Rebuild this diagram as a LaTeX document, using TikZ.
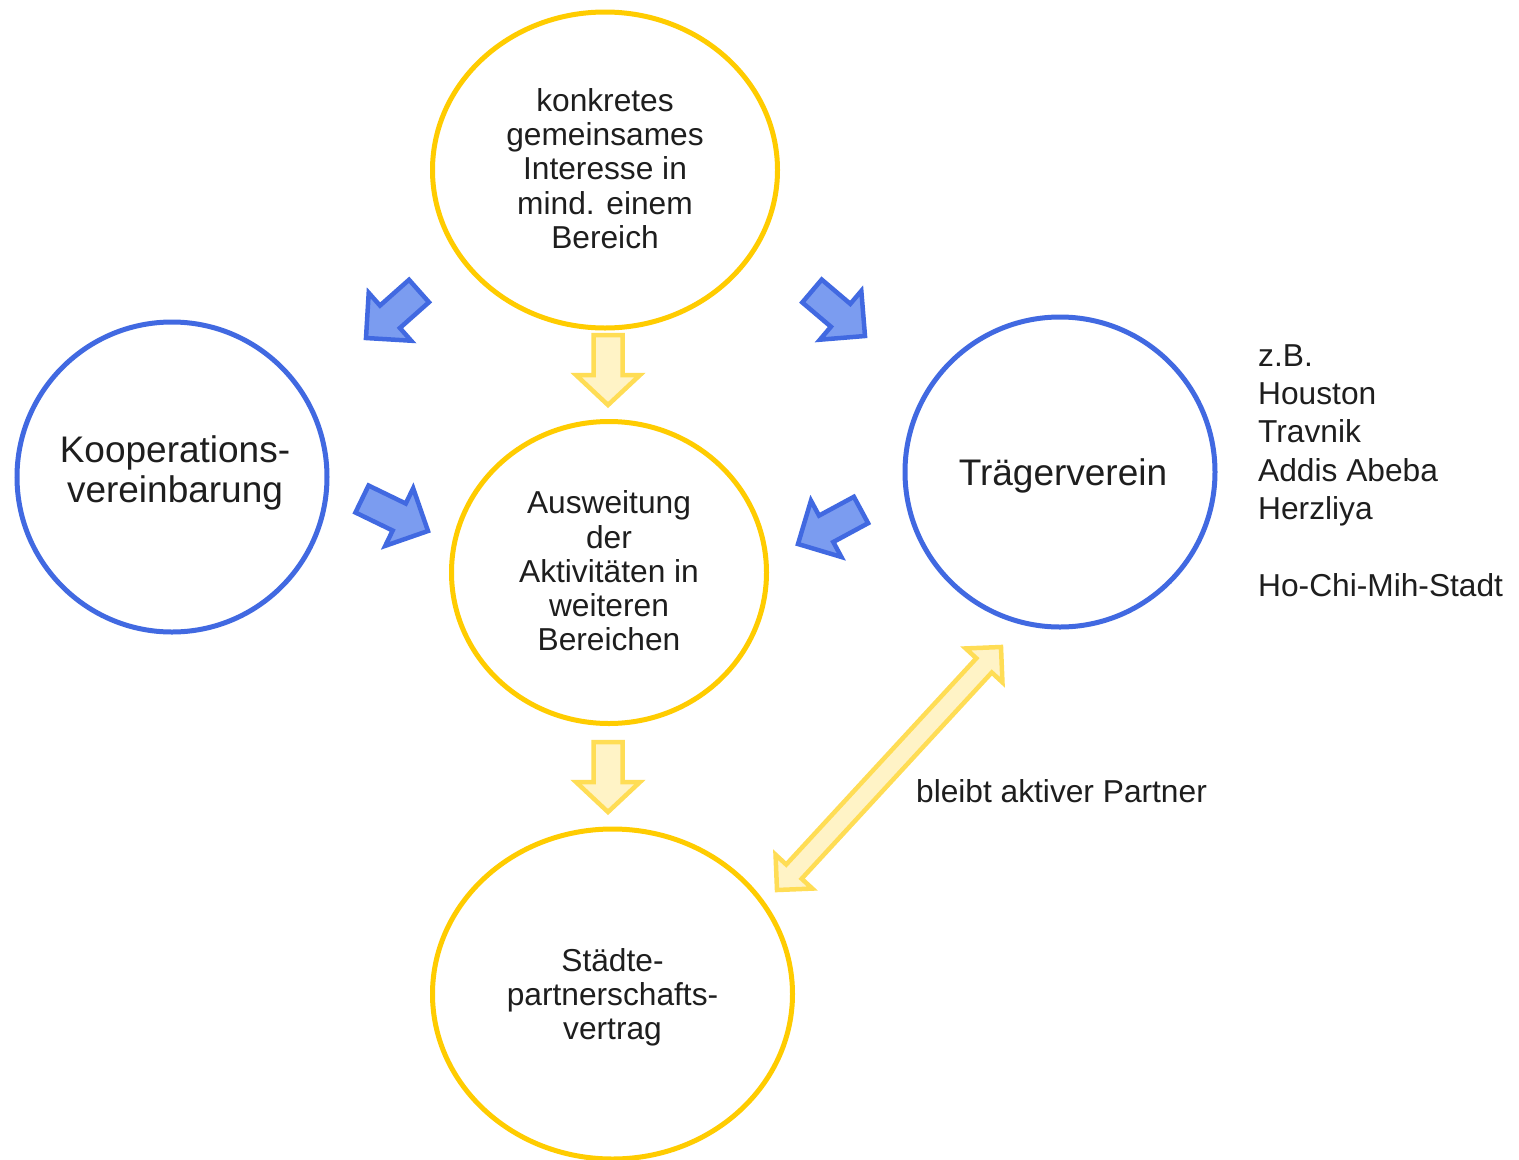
\documentclass[tikz,border=0pt]{standalone}
\usepackage{fontspec}
\setmainfont{Liberation Sans}
\usetikzlibrary{calc,shapes.geometric}
\definecolor{ylw}{HTML}{FFCC00}
\definecolor{blu}{HTML}{4169E1}
\definecolor{bluf}{HTML}{7B9CF0}
\definecolor{ylwa}{HTML}{FFDD55}
\definecolor{ylwf}{HTML}{FFF3C6}
\definecolor{txt}{HTML}{1E1E1E}
% block arrow: style, tail, tip, shaft half width, head half width, head length
\newcommand\blockarr[6]{%
  \coordinate (ba-b) at ($(#3)!#6!(#2)$);
  \draw[#1] ($(#2)!#4!90:(#3)$) -- ($(ba-b)!#4!-90:(#2)$) -- ($(ba-b)!#5!-90:(#2)$) -- (#3)
    -- ($(ba-b)!#5!90:(#2)$) -- ($(ba-b)!#4!90:(#2)$) -- ($(#2)!#4!-90:(#3)$) -- cycle;}
% double block arrow: style, end1, end2, shaft half, head half, head length
\newcommand\dblarr[6]{%
  \coordinate (da-a) at ($(#2)!#6!(#3)$);
  \coordinate (da-b) at ($(#3)!#6!(#2)$);
  \draw[#1] (#2) -- ($(da-a)!#5!90:(#3)$) -- ($(da-a)!#4!90:(#3)$) -- ($(da-b)!#4!-90:(#2)$)
    -- ($(da-b)!#5!-90:(#2)$) -- (#3) -- ($(da-b)!#5!90:(#2)$) -- ($(da-b)!#4!90:(#2)$)
    -- ($(da-a)!#4!-90:(#3)$) -- ($(da-a)!#5!-90:(#3)$) -- cycle;}
\begin{document}
\begin{tikzpicture}[x=1pt,y=-1pt,
  yring/.style={ellipse, draw=ylw, line width=5pt, inner sep=0pt},
  bring/.style={ellipse, draw=blu, line width=5pt, inner sep=0pt,
    minimum width=310pt, minimum height=310pt},
  ringtext/.style={align=center, text=txt, inner sep=0pt,
    font=\fontsize{31.7pt}{34.2pt}\selectfont},
  bigtext/.style={align=center, text=txt, inner sep=0pt,
    font=\fontsize{37pt}{40pt}\selectfont},
  barrow/.style={draw=blu, fill=bluf, line width=4.5pt, line join=miter},
  yarrow/.style={draw=ylwa, fill=ylwf, line width=4.5pt, line join=miter},
  plain/.style={text=txt, inner sep=0pt, font=\fontsize{31.7pt}{38.4pt}\selectfont}]
\useasboundingbox (0,0) rectangle (1519,1160);
\fill[white] (0,0) rectangle (1519,1160);

\node[yring, minimum width=345pt, minimum height=316pt] (top) at (605,170) {};
\node[yring, minimum width=315pt, minimum height=302pt] (mid) at (609,572.5) {};
\node[yring, minimum width=360pt, minimum height=330pt] (bot) at (612.5,994) {};
\node[bring] (koop) at (172,477) {};
\node[bring] (traeger) at (1060,472) {};

\node[ringtext] (top-t) at (605,168.5)
  {konkretes\\gemeinsames\\Interesse in\\mind. einem\\Bereich};
\node[ringtext] (mid-t) at (609,571)
  {Ausweitung\\der\\Aktivitäten in\\weiteren\\Bereichen};
\node[ringtext] (bot-t) at (612.5,997)
  {Städte-\\partnerschafts-\\vertrag};
\node[bigtext] (koop-t) at (175,473) {Kooperations-\\vereinbarung};
\node[bigtext] (traeger-t) at (1063,476) {Trägerverein};

\node[plain, align=left, anchor=north west] (list) at (1258,344)
  {z.B.\\Houston\\Travnik\\Addis Abeba\\Herzliya\\[38.4pt]Ho-Chi-Mih-Stadt};
\node[plain] (partner) at (1061.5,791.5) {bleibt aktiver Partner};

\coordinate (a1s) at (419,291); \coordinate (a1e) at (366,338);
\coordinate (a2s) at (812,291); \coordinate (a2e) at (865,336);
\coordinate (a3s) at (608,335); \coordinate (a3e) at (608,405);
\coordinate (a4s) at (362,499); \coordinate (a4e) at (428,531);
\coordinate (a5s) at (861,510); \coordinate (a5e) at (798,544);
\coordinate (a6s) at (608,742); \coordinate (a6e) at (608,812);
\coordinate (d1) at (1001,647); \coordinate (d2) at (777,890);

\blockarr{barrow}{a1s}{a1e}{15pt}{32pt}{32pt}
\blockarr{barrow}{a2s}{a2e}{15pt}{32pt}{32pt}
\blockarr{barrow}{a4s}{a4e}{15pt}{32pt}{32pt}
\blockarr{barrow}{a5s}{a5e}{15pt}{32pt}{32pt}
\blockarr{yarrow}{a3s}{a3e}{14.5pt}{32pt}{30pt}
\blockarr{yarrow}{a6s}{a6e}{14.5pt}{32pt}{30pt}
\dblarr{yarrow}{d1}{d2}{10.5pt}{25pt}{25pt}
\end{tikzpicture}
\end{document}
